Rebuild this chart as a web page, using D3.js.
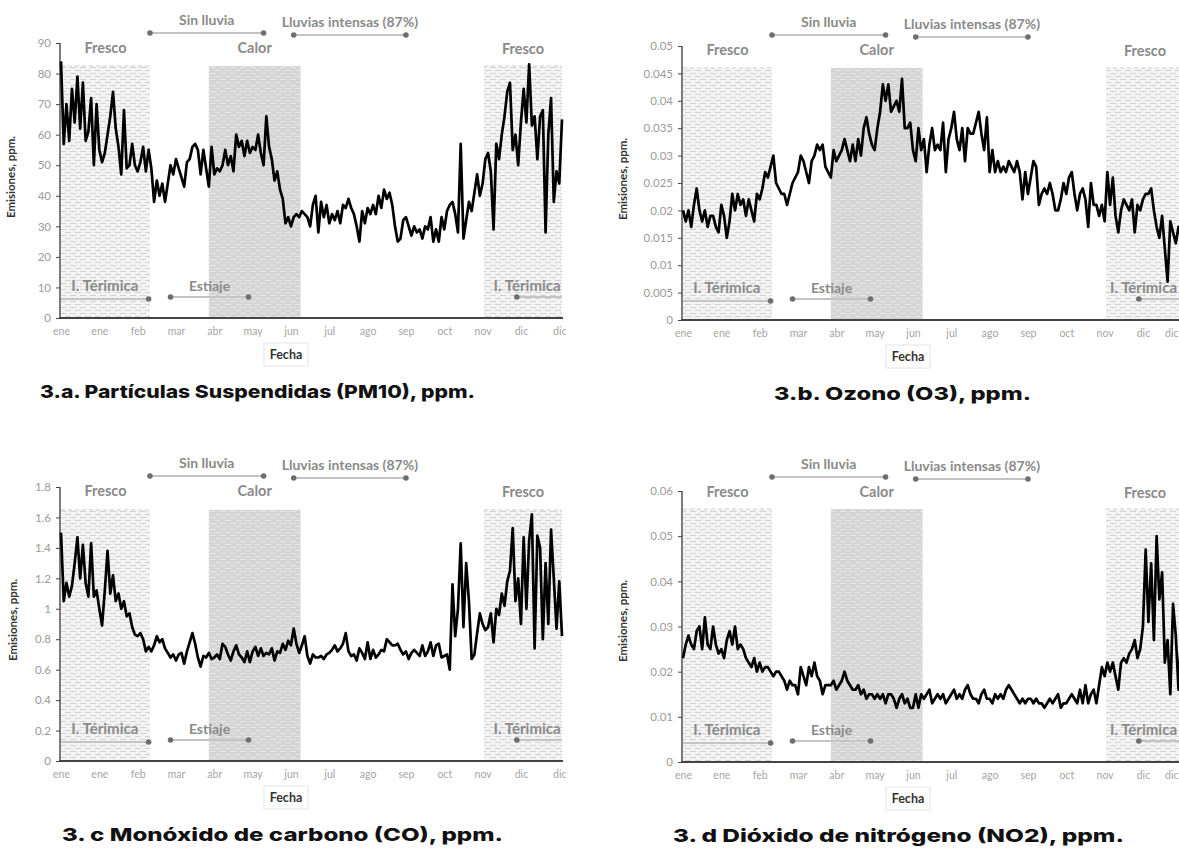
<!DOCTYPE html>
<html>
<head>
<meta charset="utf-8">
<script src="https://cdn.jsdelivr.net/npm/d3@7"></script>
<style>
  body { margin: 0; background: #fff; }
  svg { display: block; }
</style>
</head>
<body>
<svg id="chart" width="1179" height="852"></svg>
<script>
// dias del año, una muestra cada 2 dias (0 = 1 de enero)
var sampleDays = d3.range(0, 367, 2);

// etiquetas del eje x, cada 28 dias
var tickDays = [0, 28, 56, 84, 112, 140, 168, 196, 224, 252, 280, 308, 336, 364];
var monthLabels = ["ene", "ene", "feb", "mar", "abr", "may", "jun", "jul", "ago", "sep", "oct", "nov", "dic", "dic"];

// periodos (dia inicio, dia fin)
var frescoPeriods = [[0, 65], [309, 366]];
var calorPeriod = [108, 175];
var sinLluvia = [65, 148];
var lluviasIntensas = [170, 252];
var estiaje = [80, 137];
var inversionIzq = [0, 64];
var inversionDer = [333, 366];

// 3.a PM10
var pm10 = [84,57,70,58,75,64,79,62,77,58,
61,72,50,70,55,51,54,60,66,74,
62,56,47,68,49,50,57,50,48,51,
56,48,55,49,38,45,40,44,38,44,
50,47,52,49,46,43,51,52,56,57,
55,47,55,49,43,56,47,49,48,50,
55,50,53,48,60,56,58,53,58,54,
56,55,60,54,50,66,56,52,45,48,
42,39,31,33,30,33,34,33,35,34,
33,30,37,40,28,38,33,37,31,34,
32,35,31,37,36,39,36,34,30,25,
35,31,36,34,37,34,40,36,42,39,
41,37,30,25,26,32,33,30,27,30,
28,29,26,30,29,33,25,29,25,33,
29,35,37,38,34,28,57,26,32,38,
35,41,47,40,44,52,54,48,29,57,
52,60,66,74,77,55,60,50,64,75,
64,83,63,66,52,66,68,28,60,72,
38,48,44,65];

// 3.b O3
var o3 = [0.020,0.018,0.020,0.017,0.021,0.024,0.020,0.018,0.020,0.017,
0.019,0.019,0.017,0.016,0.021,0.019,0.015,0.018,0.023,0.020,
0.023,0.021,0.022,0.019,0.022,0.020,0.018,0.023,0.022,0.024,
0.027,0.026,0.028,0.030,0.025,0.024,0.023,0.023,0.021,0.023,
0.025,0.026,0.027,0.030,0.029,0.027,0.025,0.029,0.030,0.032,
0.031,0.032,0.028,0.027,0.026,0.031,0.029,0.030,0.031,0.033,
0.031,0.029,0.032,0.029,0.033,0.030,0.035,0.037,0.034,0.032,
0.031,0.035,0.038,0.043,0.040,0.043,0.038,0.039,0.040,0.038,
0.044,0.035,0.035,0.036,0.031,0.029,0.035,0.031,0.033,0.027,
0.032,0.035,0.031,0.032,0.031,0.036,0.027,0.033,0.035,0.038,
0.033,0.031,0.035,0.029,0.035,0.034,0.034,0.036,0.038,0.034,
0.031,0.037,0.027,0.031,0.027,0.029,0.027,0.028,0.027,0.029,
0.028,0.027,0.029,0.027,0.022,0.027,0.023,0.026,0.029,0.028,
0.021,0.023,0.024,0.023,0.025,0.023,0.020,0.020,0.022,0.025,
0.023,0.026,0.027,0.023,0.020,0.023,0.024,0.022,0.017,0.025,
0.021,0.021,0.019,0.021,0.018,0.027,0.021,0.026,0.019,0.016,
0.020,0.022,0.021,0.020,0.022,0.016,0.021,0.020,0.022,0.023,
0.023,0.024,0.020,0.017,0.015,0.019,0.013,0.007,0.018,0.016,
0.014,0.017,0.015,0.023];

// 3.c CO
var co = [1.50,1.05,1.17,1.08,1.15,1.30,1.47,1.20,1.42,1.17,
1.08,1.43,1.08,1.12,1.00,0.89,1.12,1.38,1.10,1.22,
1.05,1.10,1.00,1.05,0.95,0.97,0.88,0.83,0.82,0.84,
0.80,0.72,0.75,0.72,0.76,0.82,0.78,0.80,0.74,0.71,
0.68,0.70,0.66,0.70,0.71,0.64,0.72,0.78,0.84,0.77,
0.68,0.62,0.69,0.68,0.71,0.67,0.68,0.70,0.67,0.77,
0.75,0.70,0.66,0.72,0.76,0.70,0.68,0.65,0.72,0.65,
0.72,0.75,0.69,0.74,0.69,0.71,0.70,0.74,0.66,0.72,
0.71,0.77,0.73,0.79,0.76,0.87,0.77,0.71,0.76,0.82,
0.69,0.64,0.70,0.68,0.68,0.69,0.67,0.70,0.71,0.73,
0.76,0.72,0.74,0.77,0.84,0.72,0.69,0.70,0.66,0.74,
0.71,0.67,0.78,0.67,0.73,0.68,0.70,0.73,0.72,0.80,
0.78,0.76,0.76,0.77,0.73,0.70,0.72,0.67,0.71,0.73,
0.71,0.69,0.76,0.69,0.72,0.78,0.69,0.76,0.77,0.68,
0.69,0.70,0.60,1.16,0.82,1.00,1.43,0.88,1.30,1.05,
0.67,0.70,0.84,0.97,0.90,0.86,0.88,0.97,0.78,1.00,
0.96,1.10,1.02,1.18,1.25,1.53,1.05,1.20,0.90,1.47,
1.00,1.45,1.62,0.74,1.48,1.40,0.80,1.30,0.90,1.52,
1.20,0.87,1.18,0.82];

// 3.d NO2
var no2 = [0.023,0.026,0.028,0.026,0.025,0.029,0.030,0.025,0.032,0.026,
0.025,0.030,0.026,0.024,0.025,0.023,0.027,0.029,0.026,0.030,
0.025,0.026,0.025,0.023,0.022,0.021,0.023,0.020,0.022,0.020,
0.021,0.021,0.020,0.019,0.020,0.020,0.019,0.018,0.016,0.018,
0.017,0.017,0.015,0.021,0.019,0.017,0.021,0.019,0.022,0.019,
0.018,0.015,0.017,0.017,0.017,0.018,0.016,0.017,0.018,0.020,
0.018,0.017,0.016,0.016,0.017,0.015,0.016,0.014,0.015,0.015,
0.014,0.015,0.014,0.015,0.013,0.015,0.015,0.014,0.012,0.014,
0.015,0.013,0.014,0.012,0.012,0.015,0.012,0.015,0.014,0.015,
0.016,0.013,0.014,0.015,0.014,0.015,0.013,0.014,0.015,0.016,
0.014,0.015,0.014,0.016,0.017,0.015,0.014,0.014,0.013,0.015,
0.016,0.014,0.014,0.013,0.015,0.014,0.015,0.014,0.016,0.017,
0.016,0.015,0.014,0.013,0.014,0.013,0.014,0.014,0.013,0.014,
0.013,0.013,0.012,0.013,0.014,0.013,0.014,0.015,0.012,0.013,
0.013,0.014,0.015,0.014,0.013,0.016,0.013,0.017,0.013,0.015,
0.016,0.013,0.017,0.021,0.019,0.022,0.020,0.022,0.019,0.016,
0.022,0.023,0.022,0.024,0.025,0.027,0.023,0.025,0.030,0.047,
0.031,0.044,0.027,0.050,0.036,0.042,0.022,0.027,0.015,0.035,
0.028,0.016,0.029,0.019];

var ticksPM10 = [0, 10, 20, 30, 40, 50, 60, 70, 80, 90];
var ticksO3 = [0, 0.005, 0.01, 0.015, 0.02, 0.025, 0.03, 0.035, 0.04, 0.045, 0.05];
var ticksCO = [0, 0.2, 0.4, 0.6, 0.8, 1, 1.2, 1.4, 1.6, 1.8];
var ticksNO2 = [0, 0.01, 0.02, 0.03, 0.04, 0.05, 0.06];

var titles = ["3.a. Partículas Suspendidas (PM10), ppm.",
              "3.b. Ozono (O3), ppm.",
              "3. c Monóxido de carbono (CO), ppm.",
              "3. d Dióxido de nitrógeno (NO2), ppm."];

var W = 1179;
var svg = d3.select("#chart");
var defs = svg.append("defs");

// tramas de las bandas
var makePattern = function(id, bg, dash) {
    var p = defs.append("pattern")
        .attr("id", id)
        .attr("width", 10).attr("height", 6)
        .attr("patternUnits", "userSpaceOnUse");
    p.append("rect").attr("width", 10).attr("height", 6).attr("fill", bg);
    p.append("line").attr("x1", 0).attr("x2", 6).attr("y1", 1.5).attr("y2", 1.5)
        .attr("stroke", dash).attr("stroke-width", 1);
    p.append("line").attr("x1", 5).attr("x2", 11).attr("y1", 4.5).attr("y2", 4.5)
        .attr("stroke", dash).attr("stroke-width", 1);
    p.append("line").attr("x1", -5).attr("x2", 1).attr("y1", 4.5).attr("y2", 4.5)
        .attr("stroke", dash).attr("stroke-width", 1);
};
makePattern("fresco", "#f3f3f3", "#d2d2d2");
makePattern("calor", "#d5d5d5", "#e6e6e6");

var panels = [
    {values: pm10, ticks: ticksPM10, ymax: 90, top: 82.5, x0: 61, y0: 318, h: 275, ylab: 46, tx: 40, tw: 435, title: titles[0]},
    {values: o3, ticks: ticksO3, ymax: 0.05, top: 0.046, x0: 683, y0: 320, h: 274, ylab: 56, tx: 774, tw: 257, title: titles[1]},
    {values: co, ticks: ticksCO, ymax: 1.8, top: 1.65, x0: 61, y0: 761, h: 274, ylab: 44, tx: 62, tw: 441, title: titles[2]},
    {values: no2, ticks: ticksNO2, ymax: 0.06, top: 0.056, x0: 683, y0: 762, h: 271, ylab: 56, tx: 673, tw: 451, title: titles[3]}
];

var grey = "#8a8a8a";

var fmt = function(v) { return String(+v.toFixed(4)); };

var drawRange = function(g, x, y, range, startDot, endDot) {
    g.append("line")
        .attr("x1", x(range[0])).attr("x2", x(range[1]))
        .attr("y1", y).attr("y2", y)
        .attr("stroke", "#c4c4c4").attr("stroke-width", 1.8);
    if (startDot) {
        g.append("circle").attr("cx", x(range[0])).attr("cy", y).attr("r", 2.8).attr("fill", "#6e6e6e");
    }
    if (endDot) {
        g.append("circle").attr("cx", x(range[1])).attr("cy", y).attr("r", 2.8).attr("fill", "#6e6e6e");
    }
};

var label = function(g, xx, yy, txt, size) {
    var t = g.append("text")
        .attr("x", xx).attr("y", yy)
        .attr("text-anchor", "middle")
        .style("font-family", "Lato, 'Open Sans', sans-serif")
        .style("font-weight", 700)
        .style("font-size", size + "px")
        .style("fill", grey)
        .text(txt);
    // si se sale por la derecha, se pega al borde
    var len = t.node().getComputedTextLength();
    if (xx + len / 2 > W - 2) {
        t.attr("text-anchor", "end").attr("x", W - 2);
    }
};

panels.forEach(function(p) {
    var g = svg.append("g");

    var x = d3.scaleLinear().domain([0, 366]).range([p.x0, p.x0 + 501]);
    var y = d3.scaleLinear().domain([0, p.ymax]).range([p.y0, p.y0 - p.h]);

    // bandas
    frescoPeriods.forEach(function(r) {
        g.append("rect")
            .attr("x", x(r[0])).attr("y", y(p.top))
            .attr("width", x(r[1]) - x(r[0])).attr("height", y(0) - y(p.top))
            .attr("fill", "url(#fresco)");
        g.append("line")
            .attr("x1", x(r[0])).attr("x2", x(r[1]))
            .attr("y1", y(p.top)).attr("y2", y(p.top))
            .attr("stroke", "#cfcfcf").attr("stroke-dasharray", "4,3");
    });
    g.append("rect")
        .attr("x", x(calorPeriod[0])).attr("y", y(p.top))
        .attr("width", x(calorPeriod[1]) - x(calorPeriod[0])).attr("height", y(0) - y(p.top))
        .attr("fill", "url(#calor)");

    // ejes
    var yAxis = d3.axisLeft(y).tickValues(p.ticks).tickFormat(fmt).tickSize(4).tickPadding(5);
    var ya = g.append("g").attr("transform", "translate(" + (p.x0 - 1) + ",0)").call(yAxis);
    ya.select(".domain").attr("stroke", "#444").attr("stroke-width", 1.4).attr("d", "M0," + y(0) + "V" + y(p.ymax));
    ya.selectAll(".tick line").attr("stroke", "#444");
    ya.selectAll("text").style("font-family", "Lato, sans-serif").style("font-size", "11.5px").style("fill", "#9a9a9a");

    var xAxis = d3.axisBottom(x).tickValues(tickDays).tickFormat(function(d, i) { return monthLabels[i]; }).tickSize(0).tickPadding(10);
    var xa = g.append("g").attr("transform", "translate(0," + p.y0 + ")").call(xAxis);
    xa.select(".domain").attr("stroke", "#444").attr("stroke-width", 2).attr("d", "M" + (p.x0 - 2) + ",0H" + (p.x0 + 502));
    xa.selectAll("text").style("font-family", "Lato, sans-serif").style("font-size", "10.5px").style("fill", "#a5a5a5");
    // la ultima etiqueta no debe salirse del borde
    xa.selectAll(".tick text").each(function(d) {
        if (x(d) + 9 > W) {
            d3.select(this).attr("text-anchor", "end").attr("x", W - 1 - x(d));
        }
    });

    // serie
    var line = d3.line()
        .x(function(d, i) { return x(sampleDays[i]); })
        .y(function(d) { return y(d); });
    g.append("path")
        .datum(p.values)
        .attr("d", line)
        .attr("fill", "none")
        .attr("stroke", "#000")
        .attr("stroke-width", 2.7)
        .attr("stroke-linejoin", "round");

    // anotaciones
    label(g, x((sinLluvia[0] + sinLluvia[1]) / 2), p.y0 - 293, "Sin lluvia", 14);
    drawRange(g, x, p.y0 - 285, sinLluvia, true, true);
    label(g, x((lluviasIntensas[0] + lluviasIntensas[1]) / 2), p.y0 - 291, "Lluvias intensas (87%)", 14);
    drawRange(g, x, p.y0 - 283, lluviasIntensas, true, true);

    label(g, x((frescoPeriods[0][0] + frescoPeriods[0][1]) / 2), p.y0 - 265, "Fresco", 14.5);
    label(g, x((calorPeriod[0] + calorPeriod[1]) / 2), p.y0 - 265, "Calor", 14.5);
    label(g, x((frescoPeriods[1][0] + frescoPeriods[1][1]) / 2), p.y0 - 264, "Fresco", 14.5);

    label(g, x((inversionIzq[0] + inversionIzq[1]) / 2), p.y0 - 27, "I. Térimica", 15);
    drawRange(g, x, p.y0 - 19, inversionIzq, false, true);
    label(g, x((estiaje[0] + estiaje[1]) / 2), p.y0 - 27, "Estiaje", 14);
    drawRange(g, x, p.y0 - 21, estiaje, true, true);
    label(g, x((frescoPeriods[1][0] + frescoPeriods[1][1]) / 2 + 3), p.y0 - 27, "I. Térimica", 15);
    drawRange(g, x, p.y0 - 21, inversionDer, true, false);

    // titulos de ejes
    g.append("text")
        .attr("transform", "translate(" + (p.x0 - p.ylab) + "," + (p.y0 - 141) + ") rotate(-90)")
        .attr("text-anchor", "middle")
        .style("font-family", "Lato, sans-serif")
        .style("font-weight", 700)
        .style("font-size", "11.5px")
        .style("fill", "#333")
        .text("Emisiones, ppm.");

    g.append("rect")
        .attr("x", p.x0 + 203).attr("y", p.y0 + 25)
        .attr("width", 44).attr("height", 23)
        .attr("fill", "#fff").attr("stroke", "#e3e3e3");
    g.append("text")
        .attr("x", p.x0 + 225).attr("y", p.y0 + 41)
        .attr("text-anchor", "middle")
        .style("font-family", "Lato, sans-serif")
        .style("font-weight", 700)
        .style("font-size", "12.5px")
        .style("fill", "#333")
        .text("Fecha");

    // titulo del panel
    g.append("text")
        .attr("x", p.tx).attr("y", p.y0 + 80)
        .attr("textLength", p.tw)
        .attr("lengthAdjust", "spacingAndGlyphs")
        .style("font-family", "Inter, 'Noto Sans', sans-serif")
        .style("font-weight", 800)
        .style("font-size", "18px")
        .style("fill", "#111")
        .text(p.title);
});
</script>
</body>
</html>
